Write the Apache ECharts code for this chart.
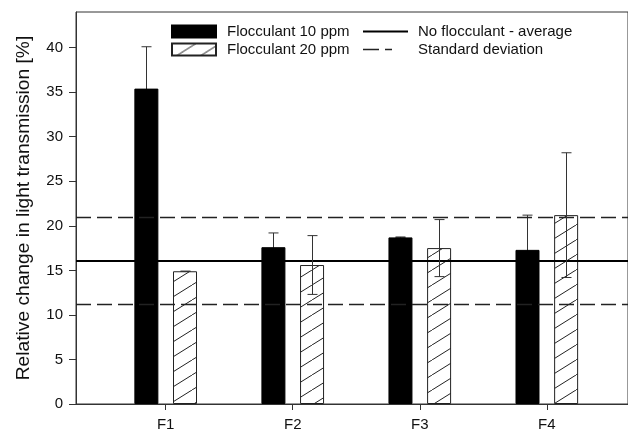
<!DOCTYPE html>
<html>
<head>
<meta charset="utf-8">
<script src="https://cdn.jsdelivr.net/npm/echarts@6/dist/echarts.min.js"></script>
<style>
html,body{margin:0;padding:0;background:#fff;}
#chart{width:628px;height:432px;}
</style>
</head>
<body>
<div id="chart"></div>
<script>
// ---- data ----
const categories = ['F1', 'F2', 'F3', 'F4'];
const flocc10Mean = [35.4, 17.6, 18.7, 17.3];
const flocc10Sd   = [4.7, 1.6, 0.05, 3.9];
const flocc20Mean = [14.9, 15.6, 17.5, 21.2];
const flocc20Sd   = [0, 3.3, 3.2, 7.0];
const noFloccAverage = [16.1];
const standardDeviation = [21.0, 11.2];
const yTicks = [0, 5, 10, 15, 20, 25, 30, 35, 40];

const FONT = '"Liberation Sans", Arial, sans-serif';

// hatch pattern
function makeHatch() {
  const w = 24, h = 15;
  const c = document.createElement('canvas');
  c.width = w; c.height = h;
  const ctx = c.getContext('2d');
  ctx.fillStyle = '#fff';
  ctx.fillRect(0, 0, w, h);
  ctx.strokeStyle = '#222';
  ctx.lineWidth = 1;
  for (const dx of [-w, 0, w]) {
    ctx.beginPath();
    ctx.moveTo(dx, h);
    ctx.lineTo(dx + w, 0);
    ctx.stroke();
  }
  return c;
}
const hatch = { image: makeHatch(), repeat: 'repeat' };

const xPos = categories.map((c, i) => i + 1);
const bar10 = xPos.map((x, i) => [x, flocc10Mean[i]]);
const bar20 = xPos.map((x, i) => [x, flocc20Mean[i]]);
const err10 = xPos.map((x, i) => [x, flocc10Mean[i], flocc10Sd[i]]);
const err20 = xPos.map((x, i) => [x, flocc20Mean[i], flocc20Sd[i]]);

function errRender(offset) {
  return function (params, api) {
    const x = api.value(0), m = api.value(1), s = api.value(2);
    const top = api.coord([x, m + s]);
    const bot = api.coord([x, m - s]);
    const cx = Math.round(top[0] + offset) + 0.5;
    const cap = 5;
    const st = { stroke: '#333', lineWidth: 1 };
    return {
      type: 'group',
      children: [
        { type: 'line', shape: { x1: cx, y1: top[1], x2: cx, y2: bot[1] }, style: st },
        { type: 'line', shape: { x1: cx - cap, y1: top[1], x2: cx + cap, y2: top[1] }, style: st },
        { type: 'line', shape: { x1: cx - cap, y1: bot[1], x2: cx + cap, y2: bot[1] }, style: st }
      ]
    };
  };
}

const legendText = { fontFamily: FONT, fontSize: 15, color: '#111' };

const chart = echarts.init(document.getElementById('chart'), null, { renderer: 'canvas' });
chart.setOption({
  animation: false,
  backgroundColor: '#fff',
  textStyle: { fontFamily: FONT },
  grid: { left: 76, top: 12, right: -2, bottom: 26, show: true, borderColor: '#333', borderWidth: 1 },
  legend: [
    {
      data: ['Flocculant 10 ppm', 'Flocculant 20 ppm'],
      orient: 'vertical', left: 171, top: 24, padding: 0,
      itemWidth: 44, itemHeight: 12, itemGap: 3,
      icon: 'rect',
      textStyle: Object.assign({ padding: [0, 0, 0, 6] }, legendText)
    },
    {
      data: [
        { name: 'No flocculant - average' },
        { name: 'Standard deviation', lineStyle: { type: [16, 6, 7, 60], width: 1.3, color: '#222' } }
      ],
      orient: 'vertical', left: 362, top: 24, padding: 0,
      itemWidth: 45, itemHeight: 12, itemGap: 3,
      itemStyle: { opacity: 0 },
      textStyle: Object.assign({ padding: [0, 0, 0, 5] }, legendText)
    }
  ],
  xAxis: {
    type: 'value', min: 0.294, max: 4.639,
    axisLine: { show: true, lineStyle: { color: '#333', width: 1 } },
    axisTick: { show: true, customValues: xPos, length: 6, lineStyle: { color: '#333' } },
    axisLabel: {
      customValues: xPos, fontSize: 15, color: '#111', fontFamily: FONT, margin: 13,
      formatter: v => categories[Math.round(v) - 1] || ''
    },
    splitLine: { show: false }
  },
  yAxis: {
    type: 'value', min: 0, max: 44,
    name: 'Relative change in light transmission [%]',
    nameLocation: 'middle', nameGap: 43, nameRotate: 90,
    nameTextStyle: { fontFamily: FONT, fontSize: 19.2, color: '#111' },
    axisLine: { show: true, lineStyle: { color: '#333', width: 1 } },
    axisTick: { show: true, customValues: yTicks, length: 7, lineStyle: { color: '#333' } },
    axisLabel: { customValues: yTicks, fontSize: 15, color: '#111', fontFamily: FONT, margin: 13 },
    splitLine: { show: false }
  },
  series: [
    {
      name: 'Flocculant 10 ppm', type: 'bar', data: bar10,
      barWidth: 24, barGap: '61%', z: 3,
      itemStyle: { color: '#000', borderColor: '#000', borderWidth: 1 }
    },
    {
      name: 'Flocculant 20 ppm', type: 'bar', data: bar20,
      barWidth: 24, barGap: '61%', z: 3,
      itemStyle: { color: hatch, borderColor: '#222', borderWidth: 1 }
    },
    {
      name: 'No flocculant - average', type: 'line', data: [],
      symbol: 'none', showSymbol: false,
      lineStyle: { color: '#000', width: 2 }, itemStyle: { color: '#000' },
      markLine: {
        silent: true, symbol: ['none', 'none'], label: { show: false },
        lineStyle: { color: '#000', width: 2, type: 'solid' },
        data: noFloccAverage.map(v => ({ yAxis: v }))
      },
      z: 4
    },
    {
      name: 'Standard deviation', type: 'line', data: [],
      symbol: 'none', showSymbol: false,
      lineStyle: { color: '#222', width: 1.3, type: [15, 6] }, itemStyle: { color: '#222' },
      markLine: {
        silent: true, symbol: ['none', 'none'], label: { show: false },
        lineStyle: { color: '#222', width: 1.3, type: [15, 6] },
        data: standardDeviation.map(v => ({ yAxis: v }))
      },
      z: 4
    },
    { type: 'custom', renderItem: errRender(-19.4), data: err10, z: 2, silent: true },
    { type: 'custom', renderItem: errRender(19.4), data: err20, z: 5, silent: true }
  ]
});
</script>
</body>
</html>
